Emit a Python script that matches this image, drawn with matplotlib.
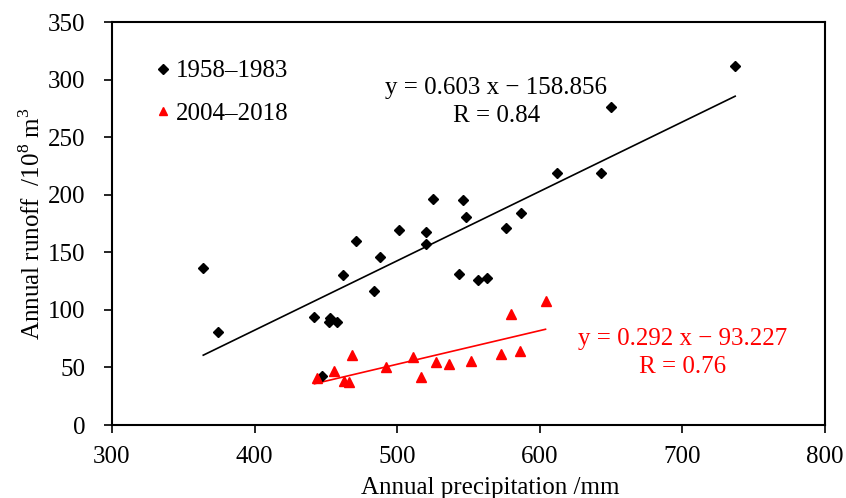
import numpy as np
import matplotlib.pyplot as plt

plt.rcParams['font.family'] = ['Liberation Serif', 'DejaVu Serif']
plt.rcParams['mathtext.fontset'] = 'custom'
plt.rcParams['mathtext.rm'] = 'Liberation Serif'

# 1958-1983
precip_early = [364, 374, 442, 447, 452, 453, 457.5, 462, 471, 484, 488, 501,
                520, 520, 525, 543, 546, 548, 556.5, 563, 576, 586.5, 612,
                643, 650, 737]
runoff_early = [136.5, 81, 94, 42.5, 89.5, 93, 89.5, 130, 159.5, 116.5, 146,
                169, 157, 167.5, 196.5, 131.5, 195, 180.5, 125.5, 127.5, 171,
                184.5, 218.5, 219, 276, 312]

# 2004-2018
precip_late = [444, 455.5, 462.5, 466.5, 468, 492, 511, 517, 527, 536, 552,
               572.5, 579.5, 586, 604]
runoff_late = [40.5, 46.5, 38.5, 37, 61, 50, 59, 41.5, 55, 53, 55.5, 62, 96,
               64, 108]

# fitted lines (slope, intercept, x range)
fit_early = (0.603, -158.856, 364, 737)
fit_late = (0.292, -93.227, 442, 604)

fs = 18

fig = plt.figure(figsize=(8.46, 4.98), dpi=100)
ax = fig.add_axes([112 / 846, 1 - 425 / 498, 713 / 846, 403 / 498])

ax.plot(precip_early, runoff_early, 'D', color='black', markersize=5.5,
        linestyle='none', label='1958\u20131983', zorder=3)
ax.plot(precip_late, runoff_late, '^', color='red', markersize=7.5,
        linestyle='none', label='2004\u20132018', zorder=3)

for (k, b, x0, x1), c in [(fit_early, 'black'), (fit_late, 'red')]:
    xs = np.array([x0, x1])
    ax.plot(xs, k * xs + b, color=c, linewidth=1.2, zorder=2)

ax.text(569.5, 292.5, 'y = 0.603 x \u2212 158.856', ha='center', va='center',
        fontsize=fs, color='black')
ax.text(569.5, 268.5, 'R = 0.84', ha='center', va='center', fontsize=fs,
        color='black')
ax.text(700, 74.5, 'y = 0.292 x \u2212 93.227', ha='center', va='center',
        fontsize=fs, color='red')
ax.text(700, 50.5, 'R = 0.76', ha='center', va='center', fontsize=fs,
        color='red')

ax.set_xlim(300, 800)
ax.set_ylim(0, 350)
ax.set_xticks(np.arange(300, 801, 100))
ax.set_yticks(np.arange(0, 351, 50))
ax.tick_params(direction='out', length=5.8, width=1.2, labelsize=fs)
ax.tick_params(axis='x', pad=9)
ax.tick_params(axis='y', pad=13.5)
for s in ax.spines.values():
    s.set_linewidth(1.5)

ax.set_xlabel('Annual precipitation /mm', fontsize=fs, labelpad=7, x=0.53)
ax.set_ylabel('Annual runoff  /10$^8$ m$^3$', fontsize=fs, labelpad=2)

leg = ax.legend(loc='upper left', bbox_to_anchor=(0.054, 0.906), frameon=False,
                fontsize=fs, handletextpad=0.02, labelspacing=0.79,
                handlelength=1.0, borderaxespad=0, borderpad=0,
                markerscale=0.85)

fig.savefig('out.png', dpi=100)
